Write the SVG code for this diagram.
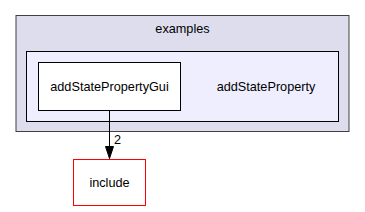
<svg xmlns="http://www.w3.org/2000/svg" width="365" height="212" viewBox="0 0 365 212">
<style>
text{font-family:"Liberation Sans",Arial,sans-serif;font-size:12.7px;fill:#000}
.c{text-anchor:middle}
.red{fill:#fff;stroke:#ff0000}
</style>
<defs>
<marker id="ah" markerWidth="14" markerHeight="10" refX="12.5" refY="4.5" orient="auto" markerUnits="userSpaceOnUse">
<path d="M0.5,0.5 L12.5,4.5 L0.5,8.5 Z" fill="#000" stroke="#000"/>
</marker>
</defs>
<rect width="365" height="212" fill="#fff"/>
<g id="cluster_examples">
<rect x="16" y="15.5" width="333" height="116" fill="#ddddee" stroke="#404040"/>
<text class="c" x="182.5" y="32.5">examples</text>
</g>
<g id="cluster_addStateProperty">
<rect x="26.5" y="51.5" width="312" height="70" fill="#eeeeff" stroke="#000"/>
<text class="c" x="266" y="91">addStateProperty</text>
</g>
<g id="node_addStatePropertyGui">
<rect x="38.5" y="62.5" width="142" height="48" fill="#fff" stroke="#000"/>
<text class="c" x="109.5" y="91">addStatePropertyGui</text>
</g>
<g id="node_include">
<rect class="red" x="73.5" y="159.5" width="72" height="46"/>
<text class="c" x="109.5" y="187">include</text>
</g>
<g id="edges">
<line x1="109.5" y1="110.5" x2="109.5" y2="158.5" stroke="#000" marker-end="url(#ah)"/>
<text x="114" y="144">2</text>
</g>
</svg>
